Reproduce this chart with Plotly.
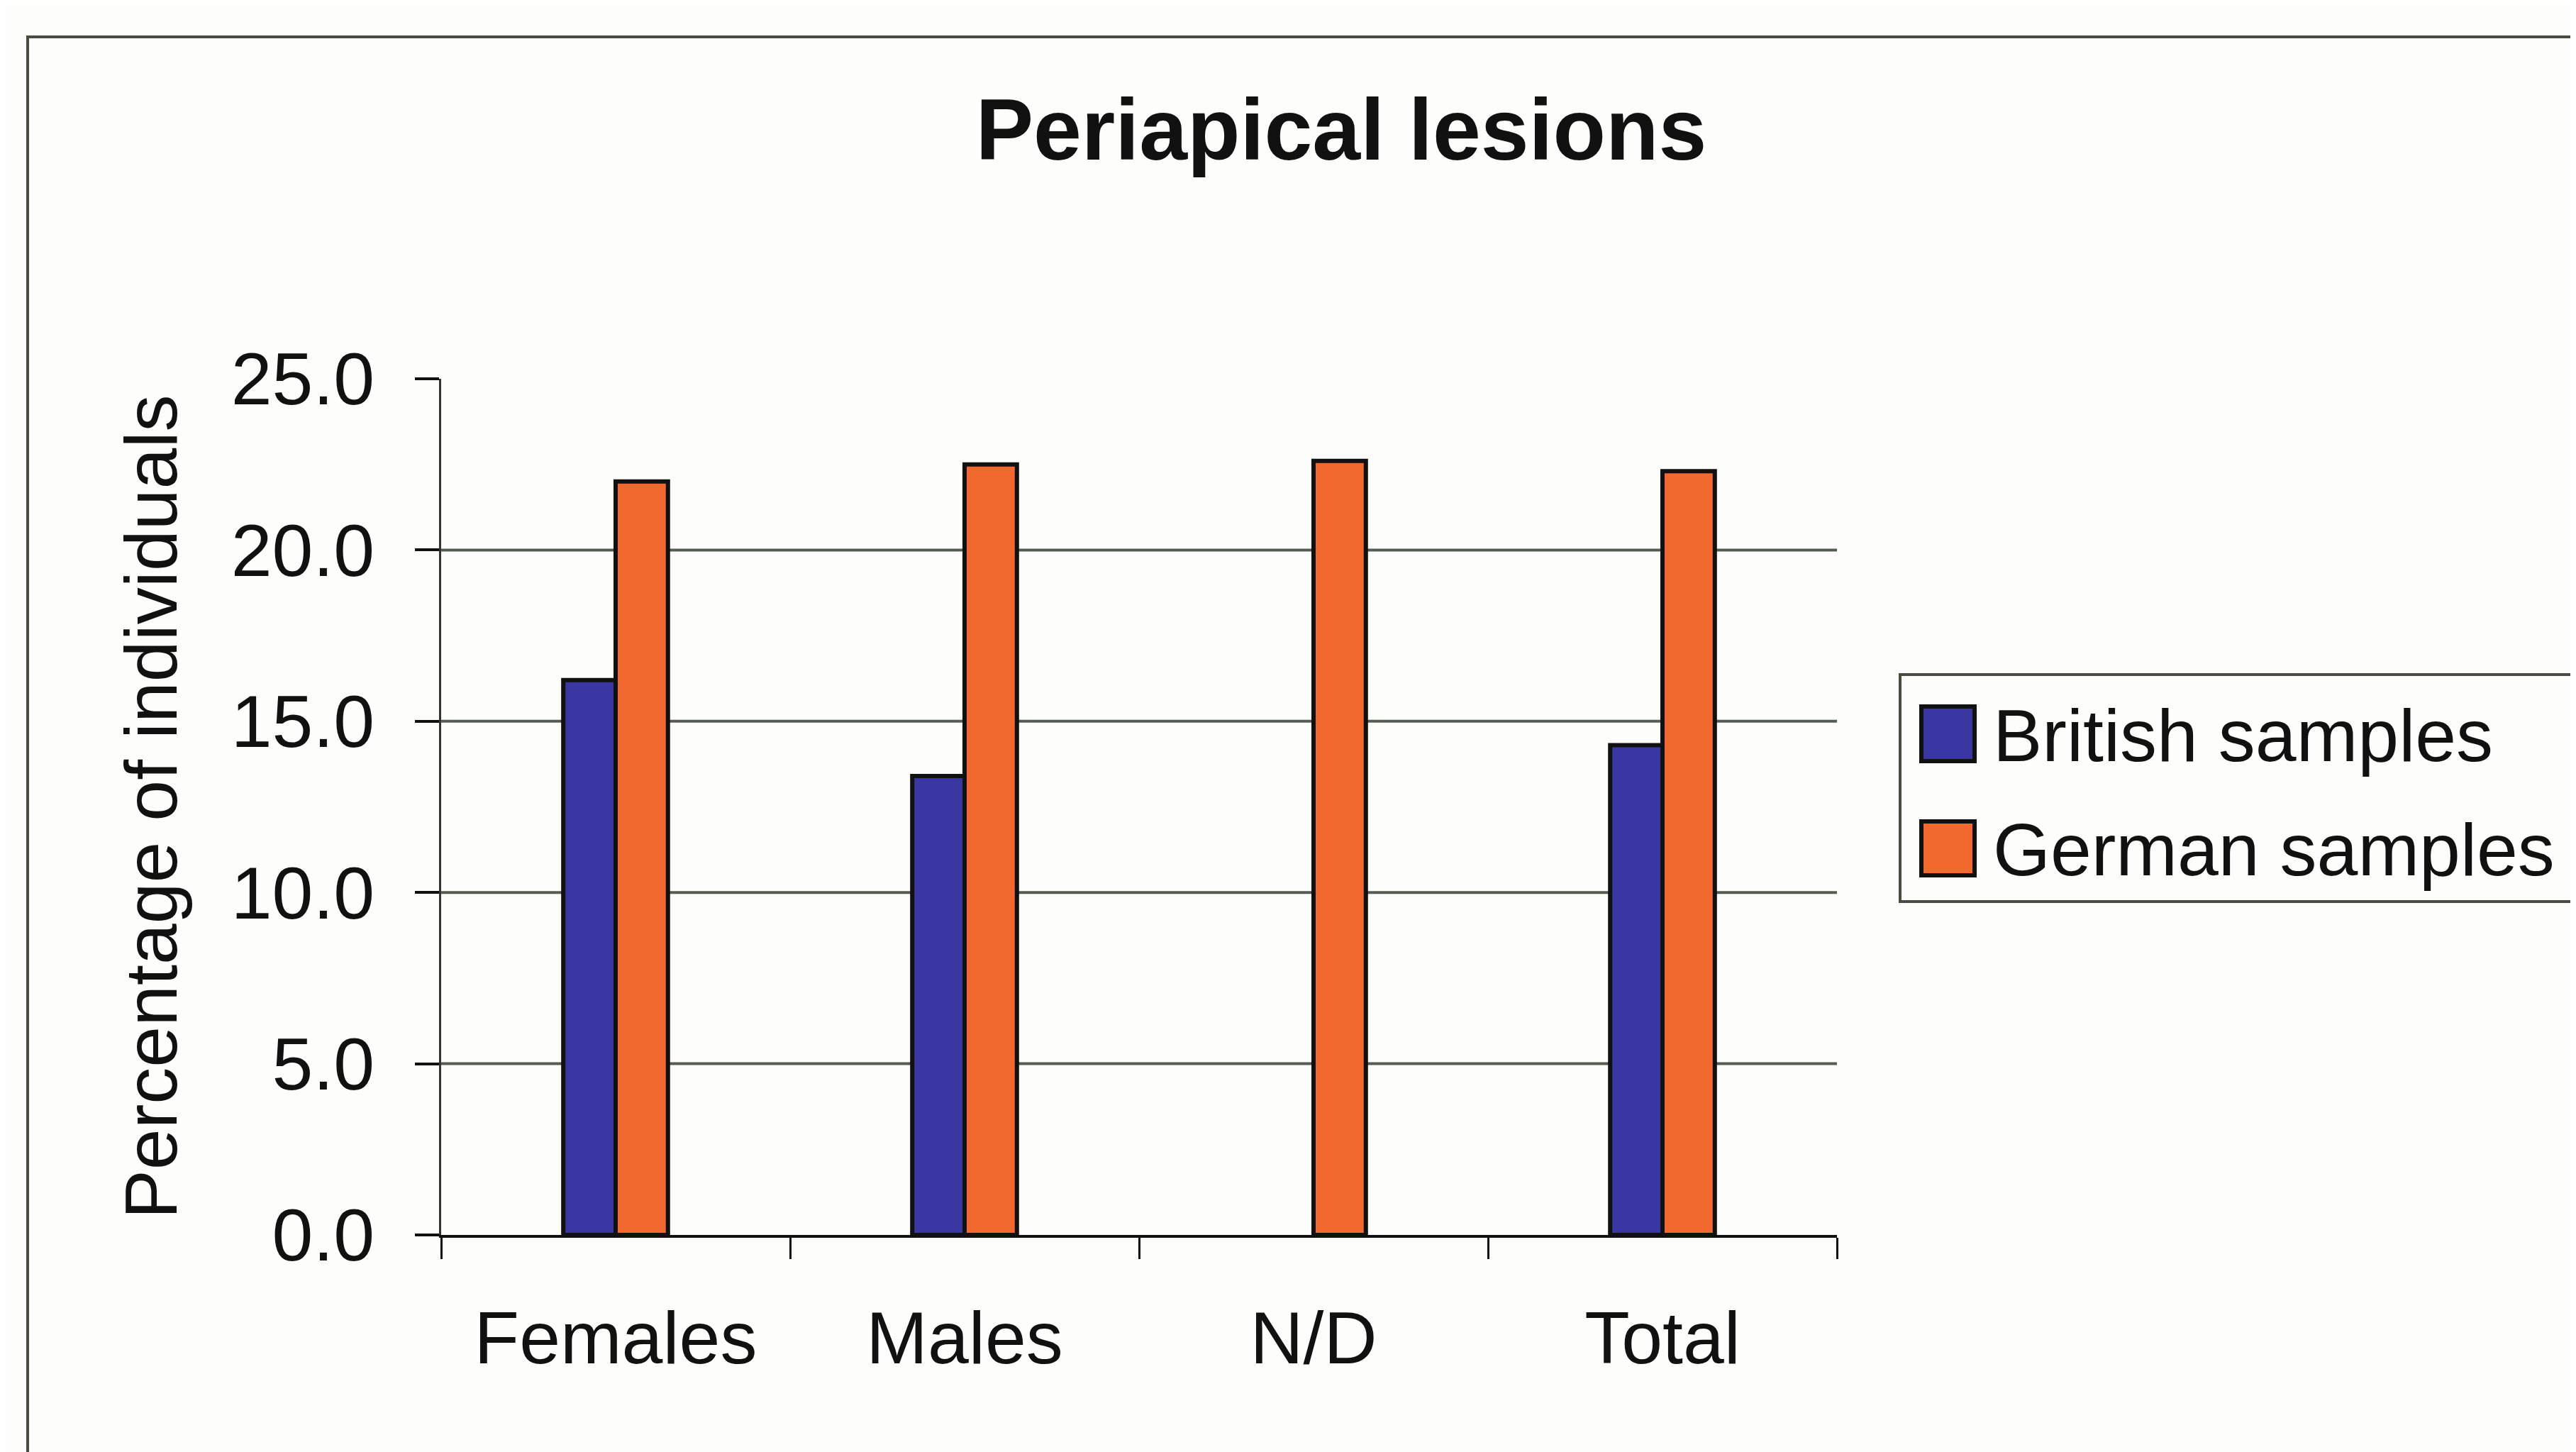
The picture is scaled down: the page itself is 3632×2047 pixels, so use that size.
import plotly.graph_objects as go

# values
categories = ["Females", "Males", "N/D", "Total"]
british = [16.2, 13.4, None, 14.3]
german = [22.0, 22.5, 22.6, 22.3]
y_ticks = [0, 5, 10, 15, 20, 25]
grid_vals = [5, 10, 15, 20]
series_names = ["British samples", "German samples"]

FONT = "Liberation Sans, Arial, sans-serif"
BLUE = "#3b37a2"
ORANGE = "#f2692f"
INK = "#111111"
GRID = "#555c52"

W, H = 3632, 2047
L, R, T, B = 614, 1050, 526, 314
PW, PH = W - L - R, H - T - B


def px_x(px):
    return (px - L) / PW


def px_y(py):
    return (H - B - py) / PH


fig = go.Figure()
fig.add_trace(go.Bar(
    x=categories, y=british, name=series_names[0],
    marker=dict(color=BLUE, line=dict(color=INK, width=6)),
    showlegend=False
))
fig.add_trace(go.Bar(
    x=categories, y=german, name=series_names[1],
    marker=dict(color=ORANGE, line=dict(color=INK, width=6)),
    showlegend=False
))

# horizontal gridlines (none at the top of the axis, as in the original)
for v in grid_vals:
    fig.add_shape(type="line", xref="paper", yref="y", x0=0, x1=1, y0=v, y1=v,
                  line=dict(color=GRID, width=4), layer="below")

# outer chart border (runs off the right/bottom of the scan)
fig.add_shape(type="rect", xref="paper", yref="paper",
              x0=px_x(31), x1=px_x(W + 20), y0=px_y(H + 20), y1=px_y(44),
              line=dict(color="#4a4a40", width=4), fillcolor="rgba(0,0,0,0)")

# legend box, drawn by hand so the swatches can be large
fig.add_shape(type="rect", xref="paper", yref="paper",
              x0=px_x(2671), x1=px_x(W + 20), y0=px_y(1263), y1=px_y(943),
              line=dict(color="#4a4a40", width=4), fillcolor="rgba(0,0,0,0)")
swatches = [(BLUE, 988, 1065, 1029), (ORANGE, 1150, 1226, 1190)]
for name, (col, y_top, y_bot, y_mid) in zip(series_names, swatches):
    fig.add_shape(type="rect", xref="paper", yref="paper",
                  x0=px_x(2701), x1=px_x(2776), y0=px_y(y_bot), y1=px_y(y_top),
                  line=dict(color=INK, width=6), fillcolor=col)
    fig.add_annotation(text=name, xref="paper", yref="paper",
                       x=px_x(2800), y=px_y(y_mid), xanchor="left", yanchor="middle",
                       showarrow=False, font=dict(family=FONT, size=104, color=INK))

fig.update_layout(
    width=W, height=H,
    margin=dict(l=L, r=R, t=T, b=B, pad=0),
    paper_bgcolor="#fdfdfb",
    plot_bgcolor="#fdfdfb",
    barmode="group",
    bargap=0.70,
    bargroupgap=0,
    font=dict(family=FONT, size=104, color=INK),
    title=dict(
        text="<b>Periapical lesions</b>",
        xref="container", x=1883 / W, xanchor="center",
        yref="container", y=1 - 174 / H, yanchor="middle",
        font=dict(family=FONT, size=122, color=INK)
    ),
    showlegend=False,
    xaxis=dict(
        showgrid=False,
        showline=True, linecolor=INK, linewidth=4,
        ticks="outside", tickson="boundaries", ticklen=30, tickwidth=3, tickcolor=INK,
        ticklabelstandoff=52,
        tickfont=dict(family=FONT, size=104, color=INK),
    ),
    yaxis=dict(
        range=[0, 25], tickvals=y_ticks, tickformat=".1f",
        showgrid=False, zeroline=False,
        showline=True, linecolor="#333333", linewidth=3,
        ticks="outside", ticklen=34, tickwidth=4, tickcolor=INK,
        ticklabelstandoff=36,
        tickfont=dict(family=FONT, size=104, color=INK),
        title=dict(text="Percentage of individuals", standoff=42,
                   font=dict(family=FONT, size=104, color=INK)),
    ),
)

fig.write_html("out.html")
